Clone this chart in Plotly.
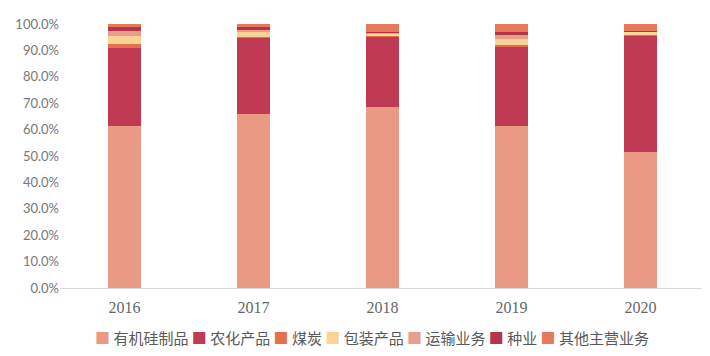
import plotly.graph_objects as go

years = ["2016", "2017", "2018", "2019", "2020"]
series_names = ["有机硅制品", "农化产品", "煤炭", "包装产品", "运输业务", "种业", "其他主营业务"]
youjigui = [61.5, 65.9, 68.6, 61.4, 51.5]
nonghua = [29.5, 28.8, 26.5, 29.9, 44.3]
meitan = [1.5, 0.3, 0.2, 0.9, 0.2]
baozhuang = [3.0, 1.9, 1.0, 2.3, 1.0]
yunshu = [2.0, 0.8, 0.3, 1.3, 0.3]
zhongye = [1.5, 1.2, 0.4, 1.2, 0.2]
qita = [1.0, 1.1, 3.0, 3.0, 2.5]
series_values = [youjigui, nonghua, meitan, baozhuang, yunshu, zhongye, qita]
colors = ["#EA9A84", "#C03A54", "#E4714E", "#FAD494", "#E69E8E", "#B7354C", "#E6795A"]

fig = go.Figure()
for name, vals, col in zip(series_names, series_values, colors):
    fig.add_trace(go.Bar(
        x=years, y=[v / 100 for v in vals], name=name,
        marker=dict(color=col, line=dict(width=0)),
        showlegend=False,
    ))

legend_text = " ".join(
    f"<span style='color:{c}'>■</span> {n}" for n, c in zip(series_names, colors)
)
fig.add_annotation(
    text=legend_text, xref="paper", yref="paper", x=0.051, y=-0.186,
    xanchor="left", yanchor="middle", showarrow=False,
    font=dict(family="Noto Sans CJK SC, sans-serif", size=15, color="#595959"),
)

fig.update_layout(
    barmode="stack",
    bargap=0.74,
    width=710, height=356,
    margin=dict(l=52, r=13, t=16, b=76, autoexpand=False),
    paper_bgcolor="white", plot_bgcolor="white",
    font=dict(family="Noto Sans CJK SC, Lato, sans-serif", color="#666666"),
    xaxis=dict(showline=True, linecolor="#D9D9D9", linewidth=1, ticks="",
               ticklabelstandoff=5,
               tickfont=dict(family="Liberation Serif, serif", size=16, color="#666666")),
    yaxis=dict(range=[0, 1.0], dtick=0.1, tickformat=".1%", showgrid=False,
               zeroline=False, showline=False, automargin=False,
               tickfont=dict(family="Lato, sans-serif", size=13, color="#777777")),
)

fig.write_html("out.html")
